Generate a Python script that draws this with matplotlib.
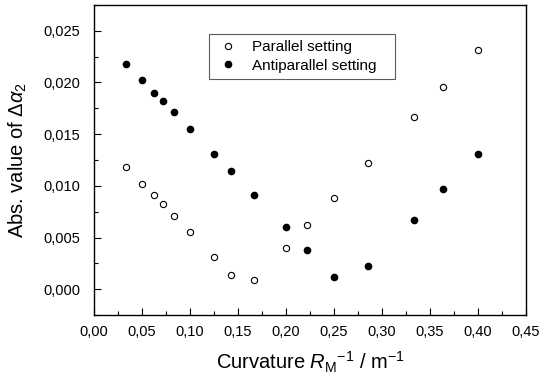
import matplotlib
matplotlib.use("Agg")
import matplotlib.pyplot as plt
from matplotlib.ticker import FuncFormatter, MultipleLocator

plt.rcParams["font.family"] = ["Liberation Sans", "DejaVu Sans"]
plt.rcParams["mathtext.fontset"] = "custom"
plt.rcParams["mathtext.rm"] = "Liberation Sans"
plt.rcParams["mathtext.it"] = "Liberation Sans:italic"

# curvature 1/R_M (m^-1)
curvature = [1/30, 1/20, 1/16, 1/14, 1/12, 1/10, 1/8, 1/7, 1/6,
             1/5, 1/4.5, 1/4, 1/3.5, 1/3, 1/2.75, 1/2.5]
parallel = [0.0118, 0.0102, 0.0091, 0.0082, 0.0071, 0.0055, 0.0031, 0.0014, 0.0009,
            0.0040, 0.0062, 0.0088, 0.0122, 0.0167, 0.0196, 0.0231]
antiparallel = [0.0218, 0.0202, 0.0190, 0.0182, 0.0171, 0.0155, 0.0131, 0.0114, 0.0091,
                0.0060, 0.0038, 0.0012, 0.0022, 0.0067, 0.0097, 0.0131]

fig = plt.figure(figsize=(5.39, 3.80), dpi=100)
ax = fig.add_axes([0.1744, 0.171, 0.8016, 0.816])

ax.plot(curvature, parallel, "o", mfc="white", mec="black", mew=0.8, ms=4.5,
        label="Parallel setting")
ax.plot(curvature, antiparallel, "o", mfc="black", mec="black", ms=4.5,
        label="Antiparallel setting")

ax.set_xlim(0, 0.45)
ax.set_ylim(-0.0025, 0.0275)
ax.xaxis.set_major_locator(MultipleLocator(0.05))
ax.xaxis.set_minor_locator(MultipleLocator(0.025))
ax.yaxis.set_major_locator(MultipleLocator(0.005))
ax.yaxis.set_minor_locator(MultipleLocator(0.0025))
ax.xaxis.set_major_formatter(FuncFormatter(lambda v, p: f"{v:.2f}".replace(".", ",")))
ax.yaxis.set_major_formatter(FuncFormatter(lambda v, p: f"{v:.3f}".replace(".", ",")))
ax.tick_params(which="both", direction="in", top=False, right=False, labelsize=10.5)
ax.tick_params(which="major", length=5, width=0.8)
ax.tick_params(which="minor", length=3, width=0.8)
ax.tick_params(axis="x", pad=7)
ax.tick_params(axis="y", pad=10)
for s in ax.spines.values():
    s.set_linewidth(1.0)

ax.set_xlabel(r"Curvature $\mathit{R}_\mathrm{M}{}^{-1}$ / m$^{-1}$", fontsize=14.5, labelpad=8)
ax.set_ylabel("Abs. value of $\\mathit{Δα}_2$", fontsize=14.5, labelpad=10.5)

leg = ax.legend(loc="upper left", bbox_to_anchor=(0.266, 0.768, 0.431, 0.138),
                mode="expand", fontsize=11, frameon=True, fancybox=False,
                edgecolor="#333333", handletextpad=0.7, borderpad=0.4,
                labelspacing=0.3, handlelength=1.7, borderaxespad=0)
leg.get_frame().set_linewidth(0.8)

fig.savefig("out.png", dpi=100)
